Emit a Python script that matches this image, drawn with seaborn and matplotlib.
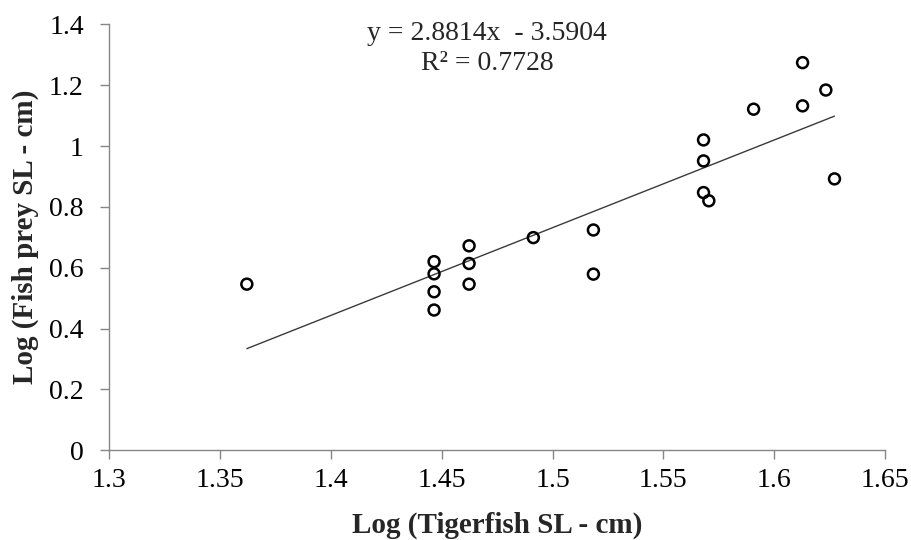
import matplotlib
matplotlib.use("Agg")
import matplotlib.pyplot as plt
import seaborn as sns
import numpy as np
import pandas as pd

# Data
tiger_log_sl = [1.362, 1.4465, 1.4465, 1.4465, 1.4465, 1.4623, 1.4623, 1.4623,
                1.4913, 1.5184, 1.5184, 1.5681, 1.5681, 1.5681, 1.5705,
                1.5907, 1.6128, 1.6128, 1.6233, 1.6272]
prey_log_sl = [0.546, 0.620, 0.580, 0.521, 0.461, 0.672, 0.614, 0.546,
               0.699, 0.724, 0.579, 1.020, 0.951, 0.847, 0.820,
               1.121, 1.274, 1.132, 1.184, 0.892]
slope = 2.8814
intercept = -3.5904
r_squared = 0.7728
x_ticks = [1.3, 1.35, 1.4, 1.45, 1.5, 1.55, 1.6, 1.65]
y_ticks = [0, 0.2, 0.4, 0.6, 0.8, 1.0, 1.2, 1.4]
x_tick_labels = ["1.3", "1.35", "1.4", "1.45", "1.5", "1.55", "1.6", "1.65"]
y_tick_labels = ["0", "0.2", "0.4", "0.6", "0.8", "1", "1.2", "1.4"]

sns.set_style("white")
plt.rcParams["font.family"] = ["Liberation Serif", "DejaVu Serif"]

df = pd.DataFrame({"x": tiger_log_sl, "y": prey_log_sl})
xs = np.array([min(tiger_log_sl), max(tiger_log_sl)])
trend = pd.DataFrame({"x": xs, "y": slope * xs + intercept})

fig = plt.figure(figsize=(9.12, 5.40), dpi=100)
ax = fig.add_axes([0.12, 0.1661, 0.8504, 0.7889])

sns.lineplot(data=trend, x="x", y="y", ax=ax, color="#3a3a3a", linewidth=1.0)
sns.scatterplot(data=df, x="x", y="y", ax=ax, marker="o", s=62,
                facecolor="none", edgecolor="black", linewidth=1.8, zorder=3)

ax.set_xlim(1.3, 1.65)
ax.set_ylim(0, 1.4)
ax.set_xticks(x_ticks)
ax.set_xticklabels(x_tick_labels)
ax.set_yticks(y_ticks)
ax.set_yticklabels(y_tick_labels)

for s in ["top", "right"]:
    ax.spines[s].set_visible(False)
for s in ["left", "bottom"]:
    ax.spines[s].set_color("#868686")
    ax.spines[s].set_linewidth(1.0)

ax.tick_params(axis="both", which="major", direction="out", length=6.5,
               width=1.0, color="#868686", labelsize=20, labelcolor="black",
               bottom=True, left=True)
ax.tick_params(axis="x", pad=6)
ax.tick_params(axis="y", pad=12)

ax.set_xlabel("Log (Tigerfish SL - cm)", fontsize=21, fontweight="bold")
ax.set_ylabel("Log (Fish prey SL - cm)", fontsize=21, fontweight="bold")
ax.xaxis.set_label_coords(497 / 912, 1 - 525 / 540, transform=fig.transFigure)
ax.yaxis.set_label_coords(25 / 912, 1 - 237 / 540, transform=fig.transFigure)
ax.xaxis.label.set_va("center")
ax.yaxis.label.set_va("center")

fig.text(487 / 912, 1 - 33 / 540, f"y = {slope}x  - {abs(intercept)}",
         ha="center", va="center", fontsize=20)
fig.text(487 / 912, 1 - 64 / 540, f"R² = {r_squared}",
         ha="center", va="center", fontsize=20)

fig.savefig("out.png", dpi=100)
